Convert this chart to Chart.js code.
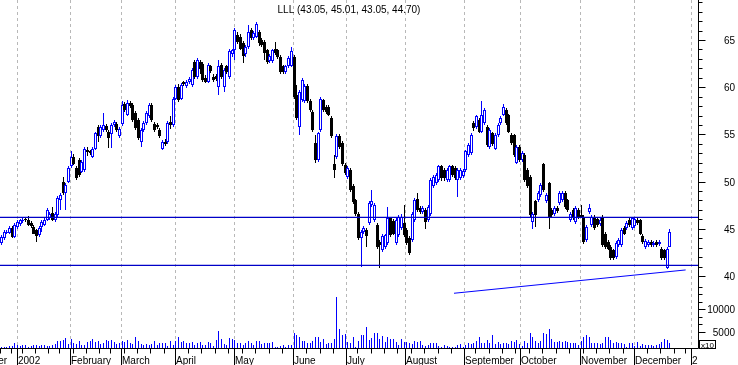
<!DOCTYPE html>
<html>
<head>
<meta charset="utf-8">
<title>LLL</title>
<script src="https://cdn.jsdelivr.net/npm/chart.js@4.4.1/dist/chart.umd.min.js"></script>
<style>
html,body{margin:0;padding:0;background:#ffffff;overflow:hidden;}
#box{position:relative;width:738px;height:365px;}
canvas{display:block;}
</style>
</head>
<body>
<div id="box"><canvas id="chart" width="738" height="365"></canvas></div>
<script>
// ---------------- DATA ----------------
const symbol = 'LLL';
const firstIndex = -5; // trading-day index of the first candle (2 Jan 2002 = 0)

const opens = [
 43.5,44.0,44.6,44.55,45.1,
 44.1,45.2,45.5,45.8,46.0,45.9,45.6,45.2,44.9,44.3,45.2,45.4,45.9,46.1,46.7,45.9,46.5,48.05,50.0,48.8,50.0,
 51.6,52.6,51.4,52.3,51.05,51.2,53.3,53.2,52.6,53.5,55.8,54.8,55.5,55.9,55.3,55.0,56.0,56.1,54.8,
 56.1,58.2,57.05,58.3,58.1,57.3,56.5,54.2,55.5,56.2,56.9,58.1,56.1,56.0,55.5,53.5,54.2,54.2,56.3,56.0,
 58.8,60.05,58.8,60.5,60.1,60.5,60.2,62.7,61.1,62.7,62.5,61.0,60.6,62.2,61.1,61.2,60.05,62.35,60.05,62.2,61.1,63.5,
 63.9,65.5,65.35,64.65,63.5,64.3,66.1,65.2,65.35,65.9,65.0,64.8,63.9,62.8,62.8,64.1,63.9,63.2,62.2,61.6,62.2,62.3,
 63.2,59.2,55.8,58.6,58.5,60.1,58.5,57.4,54.1,52.3,55.5,58.6,57.9,57.9,56.7,51.9,52.6,54.8,54.1,51.8,
 50.5,51.2,49.5,48.0,46.6,44.0,44.7,44.9,45.6,47.5,45.9,45.4,43.6,42.75,43.1,43.5,46.1,45.8,43.5,44.3,45.05,45.6,
 44.9,44.0,43.8,45.9,48.2,47.2,46.8,47.0,45.9,46.6,49.5,49.8,50.2,51.6,51.2,50.2,50.2,51.6,51.4,50.2,50.4,50.6,
 51.2,52.8,53.0,56.2,55.8,56.5,55.3,56.2,55.8,53.7,55.1,53.5,54.9,56.2,57.05,57.6,57.05,54.9,54.9,52.0,
 53.7,52.3,52.8,51.2,50.5,45.75,47.9,48.05,48.6,51.9,47.9,49.8,47.0,46.6,47.2,47.7,48.0,48.8,48.05,45.9,47.0,45.75,47.0,
 46.5,46.3,43.8,46.8,45.4,46.3,46.0,45.5,46.3,44.5,43.6,43.1,42.75,42.0,43.3,43.3,45.05,45.05,45.9,45.05,
 45.3,45.9,45.9,44.2,43.1,43.3,43.6,43.3,43.6,43.4,42.9,42.75,40.8,43.05
];
const highs = [
 44.3,44.9,44.9,45.3,45.3,
 45.6,45.9,46.0,46.1,46.2,46.4,45.8,45.4,45.0,45.3,45.9,46.1,47.2,46.8,47.3,46.8,48.5,48.8,50.5,49.8,51.6,
 53.2,52.9,51.6,52.5,52.3,53.7,53.7,53.4,53.7,55.3,56.0,56.0,57.3,56.1,55.5,56.2,56.5,56.3,55.8,
 58.5,58.4,58.6,58.5,58.3,57.5,56.7,55.7,56.4,57.5,58.3,58.3,56.3,56.2,55.7,54.4,54.5,56.4,57.0,59.0,
 60.2,60.3,60.4,60.7,60.8,61.1,62.0,62.9,63.1,62.9,62.7,61.3,62.6,62.4,61.4,61.4,62.9,62.6,62.0,62.4,64.0,64.1,
 66.3,65.8,65.6,64.9,64.5,66.6,66.3,66.0,66.9,66.1,65.2,65.0,64.1,63.5,64.1,64.8,64.1,63.4,62.4,62.4,63.3,64.3,
 63.4,60.2,59.7,61.0,60.3,60.3,58.7,57.6,54.9,55.3,59.0,58.8,58.1,58.1,56.9,52.8,55.0,55.0,54.3,52.0,
 51.6,51.4,49.7,48.2,46.8,44.9,45.3,45.1,47.9,49.1,47.7,45.6,43.8,44.4,44.5,47.3,46.3,46.0,46.1,46.5,46.6,47.5,
 45.1,44.2,46.8,48.3,48.8,47.4,47.4,47.2,47.5,50.4,50.7,50.9,51.8,51.8,51.4,51.4,51.8,51.8,51.6,51.4,51.4,51.3,
 53.4,54.1,55.1,56.4,57.1,56.7,58.5,57.8,56.0,55.7,55.3,55.1,56.2,56.9,58.2,57.8,57.2,55.1,55.0,53.9,
 53.9,53.2,53.0,51.4,50.7,46.8,48.1,49.0,49.8,52.0,48.8,50.0,47.2,47.4,47.4,49.0,49.0,49.0,48.2,46.8,47.2,47.4,47.2,
 47.5,46.5,45.4,47.6,46.5,46.5,46.2,46.1,46.5,44.7,43.8,43.3,42.9,43.7,44.0,45.1,45.3,45.8,46.1,46.3,
 46.2,46.1,46.0,44.4,43.9,43.8,43.8,43.7,43.8,43.8,43.1,42.9,43.1,45.01
];
const lows = [
 43.3,43.8,44.4,44.4,44.0,
 44.0,45.0,45.3,45.6,45.7,45.3,45.1,44.4,43.6,44.1,44.7,45.3,45.8,45.9,45.8,45.7,46.3,47.0,48.6,47.0,49.9,
 51.4,51.8,50.2,50.5,50.9,51.0,52.7,52.8,52.5,53.4,54.2,54.6,55.3,55.3,53.6,53.6,55.8,55.3,54.6,
 55.9,57.4,56.9,57.8,56.3,55.5,54.4,53.7,55.3,56.0,56.7,56.3,55.3,55.6,54.6,53.3,53.8,54.0,55.6,55.8,
 58.6,58.4,58.6,60.1,59.9,60.3,60.0,60.9,60.9,61.4,60.6,60.4,60.4,61.5,60.6,60.7,59.2,60.9,59.5,61.4,60.9,63.2,
 62.9,64.6,63.9,62.6,63.2,64.1,65.0,65.0,65.2,64.4,64.3,62.9,62.5,62.6,62.6,63.4,63.0,61.4,61.4,61.4,62.0,62.1,
 58.8,56.5,54.9,58.4,58.3,58.3,57.4,55.3,52.0,52.1,55.3,57.4,57.2,56.9,54.6,50.4,52.4,53.5,51.7,50.7,
 50.3,48.9,47.6,46.4,43.8,41.0,44.5,43.1,45.4,47.3,45.7,42.9,40.8,42.5,42.9,43.3,44.1,44.3,43.3,44.1,44.9,44.1,
 43.3,42.2,43.6,45.7,46.8,46.6,46.6,45.0,45.7,46.4,49.3,49.6,50.0,50.1,50.1,50.0,50.0,50.5,50.2,48.4,50.2,50.4,
 51.0,52.6,52.8,55.4,55.6,55.1,55.1,56.0,53.7,53.5,53.8,53.3,54.7,56.0,56.9,56.0,55.1,53.9,52.6,51.9,
 52.1,52.1,50.0,49.3,46.3,45.0,45.2,47.8,48.4,48.9,47.7,45.0,46.3,46.4,46.7,47.5,47.8,47.1,46.8,45.7,45.9,45.5,46.0,
 46.1,43.4,43.6,46.6,45.2,44.9,45.2,45.3,43.1,42.9,42.7,41.7,41.7,41.8,43.1,43.1,44.3,44.9,45.2,44.9,
 45.1,45.4,44.3,43.4,42.9,43.1,43.1,43.1,43.1,43.2,41.7,41.7,40.7,43.05
];
const closes = [
 44.1,44.7,44.7,45.1,44.1,
 45.4,45.7,45.9,45.9,45.9,45.4,45.3,44.5,44.2,45.1,45.75,45.9,47.0,46.6,45.9,46.6,48.3,48.6,48.8,49.6,51.4,
 52.6,51.9,50.4,50.7,52.1,53.5,53.1,53.0,53.5,55.1,54.8,55.8,56.0,55.5,54.6,56.0,56.3,55.5,55.6,
 58.1,57.6,58.3,58.0,56.5,55.7,54.6,55.5,56.2,57.3,58.1,56.5,55.5,55.8,54.8,54.2,54.0,56.2,56.0,58.8,
 60.0,58.6,60.2,60.3,60.6,60.9,61.8,61.1,62.9,61.9,60.8,60.6,62.35,61.7,60.8,60.9,62.2,61.1,61.8,61.6,63.8,63.9,
 66.1,64.8,64.1,63.3,64.3,65.9,65.2,65.7,66.7,64.65,64.5,63.6,62.7,63.3,63.9,63.6,63.2,61.6,61.6,62.2,63.1,63.8,
 59.0,56.7,59.5,60.8,60.1,58.5,57.6,55.5,52.3,55.1,58.8,57.6,57.4,57.05,54.8,51.2,54.8,53.7,51.9,50.9,
 51.4,49.1,47.8,46.6,44.0,44.7,45.1,44.2,47.7,47.9,47.5,43.1,43.3,44.2,44.3,46.1,44.3,44.5,45.9,46.3,46.3,44.3,
 43.5,42.4,46.6,48.05,47.0,46.8,47.2,45.75,47.3,50.2,50.5,50.7,51.6,50.35,50.35,51.2,51.6,50.7,50.4,51.2,51.2,51.1,
 53.2,53.9,54.9,55.65,56.9,55.3,57.05,57.6,53.9,55.5,54.0,54.9,56.0,56.7,57.9,56.2,55.3,54.05,52.8,53.7,
 52.3,53.0,50.2,49.5,46.5,46.6,46.5,48.8,49.6,49.1,48.6,46.3,46.5,47.2,46.9,48.8,48.8,47.3,47.0,46.6,46.1,47.2,46.2,
 46.3,43.6,45.2,47.2,46.3,45.05,45.4,45.9,43.3,43.1,42.9,41.9,41.9,43.5,43.8,44.9,44.5,45.6,45.4,46.1,
 46.0,45.6,44.5,43.6,43.7,43.6,43.3,43.5,43.3,43.6,41.9,41.9,42.9,44.70
];
// volume, in the axis unit (x10)
const volumes = [
 1580,1660,1580,1730,1810,
 2480,1960,1810,1960,2100,1660,1810,1960,2100,1810,2100,2100,1810,1810,1960,2250,2850,2850,3220,3590,2250,
 3440,2400,2250,2850,2100,1960,2700,3000,3440,2700,3000,2250,2400,3220,2850,3220,2700,2250,2400,
 3000,2700,3150,2400,2250,3890,2850,2250,2100,2250,1960,2250,2850,2100,2480,2550,2400,1810,2850,2100,
 3000,3890,2700,2850,2400,2400,2700,1960,2400,2700,2100,2100,2700,2480,1810,3220,5080,3440,2250,1960,3590,3440,
 3220,2550,2550,2100,2550,2850,2400,2100,2850,3000,2250,2550,2550,2400,2700,1580,1510,1810,1960,1660,2100,2100,
 4780,4190,3890,2850,2850,2400,2550,3000,3740,3740,2700,3440,2250,2550,2550,3290,12670,5680,4190,4490,
 2700,2550,3740,1580,2850,4340,4340,5970,3150,3590,4630,4630,3440,4040,2700,3740,3290,3440,2700,2100,3440,2700,
 2700,2400,2250,3000,2700,2850,2100,1810,1960,2400,2550,2400,1810,1660,2100,1810,1660,1660,1660,1960,2250,1660,
 2100,2400,2250,2400,2850,3890,2400,2550,3150,2550,4340,2250,2700,2250,2400,2400,2250,3000,2700,3150,
 2250,1810,2850,2400,4780,3890,2850,2400,3000,4630,4490,5680,3290,2700,2700,2850,2700,2850,2700,2550,2550,2550,1960,
 3000,3890,4340,3890,2400,2400,2400,2250,2550,3740,3740,3150,2400,2700,2550,2400,2250,1660,2400,2400,
 1810,2700,1810,2250,1960,1960,1960,1810,2100,2250,2700,3290,3150,2400
];
// drawn horizontal levels and trend line (price units)
const resistanceLevel = 46.22;
const supportLevel = 41.13;
const trendX = [163.6, 249.9];
const trendY = [38.17, 40.64];
// axis ticks
const monthTicks = [-20.5, 0.8, 20.5, 39.5, 59.5, 81.5, 103.5, 123.5, 145.5, 167.5, 188.2, 210.5, 230.5, 251.9];
const monthLabels = ['December','2002','February','March','April','May','June','July','August','September','October','November','December','2'];
const weekTicks = [-10,-5,-1,3,8,13,17,22,27,32,36,41,46,51,56,65,70,75,80,85,90,95,100,109,114,119,128,133,138,143,148,153,158,163,172,177,182,187,192,197,202,207,212,217,222,227,236,241,246,250];
const priceLabels = [40,45,50,55,60,65];
const volLabels = [5000,10000];
const volMinorTicks = [6666.67,8333.33,11666.67,13333.33,15000];

// ---------------- CHART ----------------
const FONT = '"Liberation Sans", Arial, Helvetica, sans-serif';
const BLUE = '#0000ff';
const X_MIN = -5.55, X_MAX = 254.5;
const P_MIN = 32.37, P_MAX = 69.24;
const V_MIN = 1360, V_MAX = 79040;

const xs = opens.map((_, k) => firstIndex + k);
const up = opens.map((o, k) => closes[k] >= o);
const wickData = xs.map((x, k) => ({x: x, y: [lows[k], highs[k]]}));
const bodyData = xs.map((x, k) => ({x: x, y: [opens[k], closes[k]]}));
const volData = xs.map((x, k) => ({x: x, y: volumes[k]}));

// snap bar elements to whole pixels so thin candles stay crisp
const snap = {
  id: 'snap',
  afterDatasetsUpdate(chart) {
    chart.data.datasets.forEach((ds, i) => {
      const meta = chart.getDatasetMeta(i);
      if (meta.type !== 'bar') return;
      meta.data.forEach(el => {
        el.x = Math.floor(el.x) + 0.5;
        let yy = Math.round(el.y), bb = Math.round(el.base);
        if (Math.abs(yy - bb) < 1) yy = bb - 1;
        el.y = yy; el.base = bb;
      });
    });
  }
};

const overlay = {
  id: 'overlay',
  beforeDatasetsDraw(chart) {
    const {ctx, chartArea: a, scales} = chart;
    ctx.save();
    ctx.strokeStyle = '#b8b8b8';
    ctx.lineWidth = 1;
    ctx.setLineDash([3, 3]);
    monthTicks.forEach((t) => {
      const px = Math.round(scales.x.getPixelForValue(t)) + 0.5;
      if (px < a.left || px > a.right) return;
      ctx.beginPath();
      ctx.moveTo(px, a.top);
      ctx.lineTo(px, a.bottom);
      ctx.stroke();
    });
    ctx.restore();
  },
  afterDraw(chart) {
    const {ctx, chartArea: a, scales} = chart;
    const sx = scales.x, sy = scales.y, sv = scales.yv;
    const R = a.right + 0.5, B = a.bottom + 0.5;
    ctx.save();
    ctx.setLineDash([]);
    ctx.strokeStyle = '#000';
    ctx.fillStyle = '#000';
    ctx.lineWidth = 1;
    ctx.beginPath();
    ctx.moveTo(R, a.top); ctx.lineTo(R, B);
    ctx.moveTo(a.left, B); ctx.lineTo(R, B);
    ctx.stroke();
    ctx.font = '10px ' + FONT;
    ctx.textAlign = 'right';
    ctx.textBaseline = 'alphabetic';
    for (let v = 40; v <= 69; v++) {
      const py = Math.round(sy.getPixelForValue(v)) + 0.5;
      const major = priceLabels.includes(v);
      ctx.beginPath(); ctx.moveTo(R, py); ctx.lineTo(R + (major ? 7 : 4), py); ctx.stroke();
      if (major) ctx.fillText(String(v), 735, py + 3.5);
    }
    volMinorTicks.forEach(v => {
      const py = Math.round(sv.getPixelForValue(v)) + 0.5;
      ctx.beginPath(); ctx.moveTo(R, py); ctx.lineTo(R + 4, py); ctx.stroke();
    });
    volLabels.forEach(v => {
      const py = Math.round(sv.getPixelForValue(v)) + 0.5;
      ctx.beginPath(); ctx.moveTo(R, py); ctx.lineTo(R + 7, py); ctx.stroke();
      ctx.fillText(String(v), 735, py + 3.5);
    });
    ctx.textAlign = 'left';
    weekTicks.forEach(t => {
      const px = Math.round(sx.getPixelForValue(t - 0.5)) + 0.5;
      if (px < a.left || px > a.right) return;
      ctx.beginPath(); ctx.moveTo(px, B); ctx.lineTo(px, B + 5); ctx.stroke();
    });
    monthTicks.forEach((t, k) => {
      const pxr = Math.round(sx.getPixelForValue(t));
      const px = pxr + 0.5;
      if (px >= a.left && px <= a.right + 1) {
        ctx.beginPath(); ctx.moveTo(px, B); ctx.lineTo(px, 365); ctx.stroke();
      }
      ctx.fillText(monthLabels[k], pxr + 1, 363.5);
    });
    ctx.strokeRect(699.5, 340.5, 16, 8);
    ctx.font = '8px ' + FONT;
    ctx.fillText('x10', 701, 347.5);
    const last = opens.length - 1;
    const t = symbol + ' (' + opens[last].toFixed(2) + ', ' + highs[last].toFixed(2) + ', ' +
              lows[last].toFixed(2) + ', ' + closes[last].toFixed(2) + ')';
    ctx.font = '10px ' + FONT;
    ctx.textAlign = 'center';
    ctx.fillText(t, (a.left + a.right) / 2, 12.5);
    ctx.restore();
  }
};

new Chart(document.getElementById('chart'), {
  type: 'bar',
  data: {
    datasets: [
      { type: 'bar', data: volData, yAxisID: 'yv', backgroundColor: BLUE, borderWidth: 0,
        barThickness: 1, grouped: false, base: V_MIN, inflateAmount: 0, order: 6, clip: 0 },
      { type: 'bar', data: wickData, yAxisID: 'y', backgroundColor: up.map(u => u ? BLUE : '#000000'),
        borderWidth: 0, barThickness: 1, grouped: false, inflateAmount: 0, order: 5, clip: 0 },
      { type: 'bar', data: bodyData, yAxisID: 'y', backgroundColor: up.map(u => u ? '#ffffff' : '#000000'),
        borderColor: up.map(u => u ? BLUE : '#000000'), borderWidth: 1, borderSkipped: false,
        barThickness: 3, minBarLength: 1, grouped: false, inflateAmount: 0, order: 4, clip: 0 },
      { type: 'line', data: [{x: X_MIN, y: resistanceLevel}, {x: X_MAX, y: resistanceLevel}], yAxisID: 'y',
        borderColor: '#0000c8', borderWidth: 1.2, pointRadius: 0, order: 3, clip: 0 },
      { type: 'line', data: [{x: X_MIN, y: supportLevel}, {x: X_MAX, y: supportLevel}], yAxisID: 'y',
        borderColor: '#0000c8', borderWidth: 1.2, pointRadius: 0, order: 2, clip: 0 },
      { type: 'line', data: trendX.map((x, k) => ({x: x, y: trendY[k]})), yAxisID: 'y',
        borderColor: BLUE, borderWidth: 1, pointRadius: 0, order: 1, clip: 0 }
    ]
  },
  options: {
    responsive: false,
    animation: false,
    devicePixelRatio: 1,
    events: [],
    layout: { padding: { left: 0, top: 0, right: 40, bottom: 17 } },
    plugins: { legend: { display: false }, tooltip: { enabled: false }, title: { display: false } },
    scales: {
      x: { type: 'linear', min: X_MIN, max: X_MAX, offset: false, display: false },
      y: { type: 'linear', position: 'right', min: P_MIN, max: P_MAX, display: false },
      yv: { type: 'linear', position: 'right', min: V_MIN, max: V_MAX, display: false }
    }
  },
  plugins: [snap, overlay]
});
</script>
</body>
</html>
